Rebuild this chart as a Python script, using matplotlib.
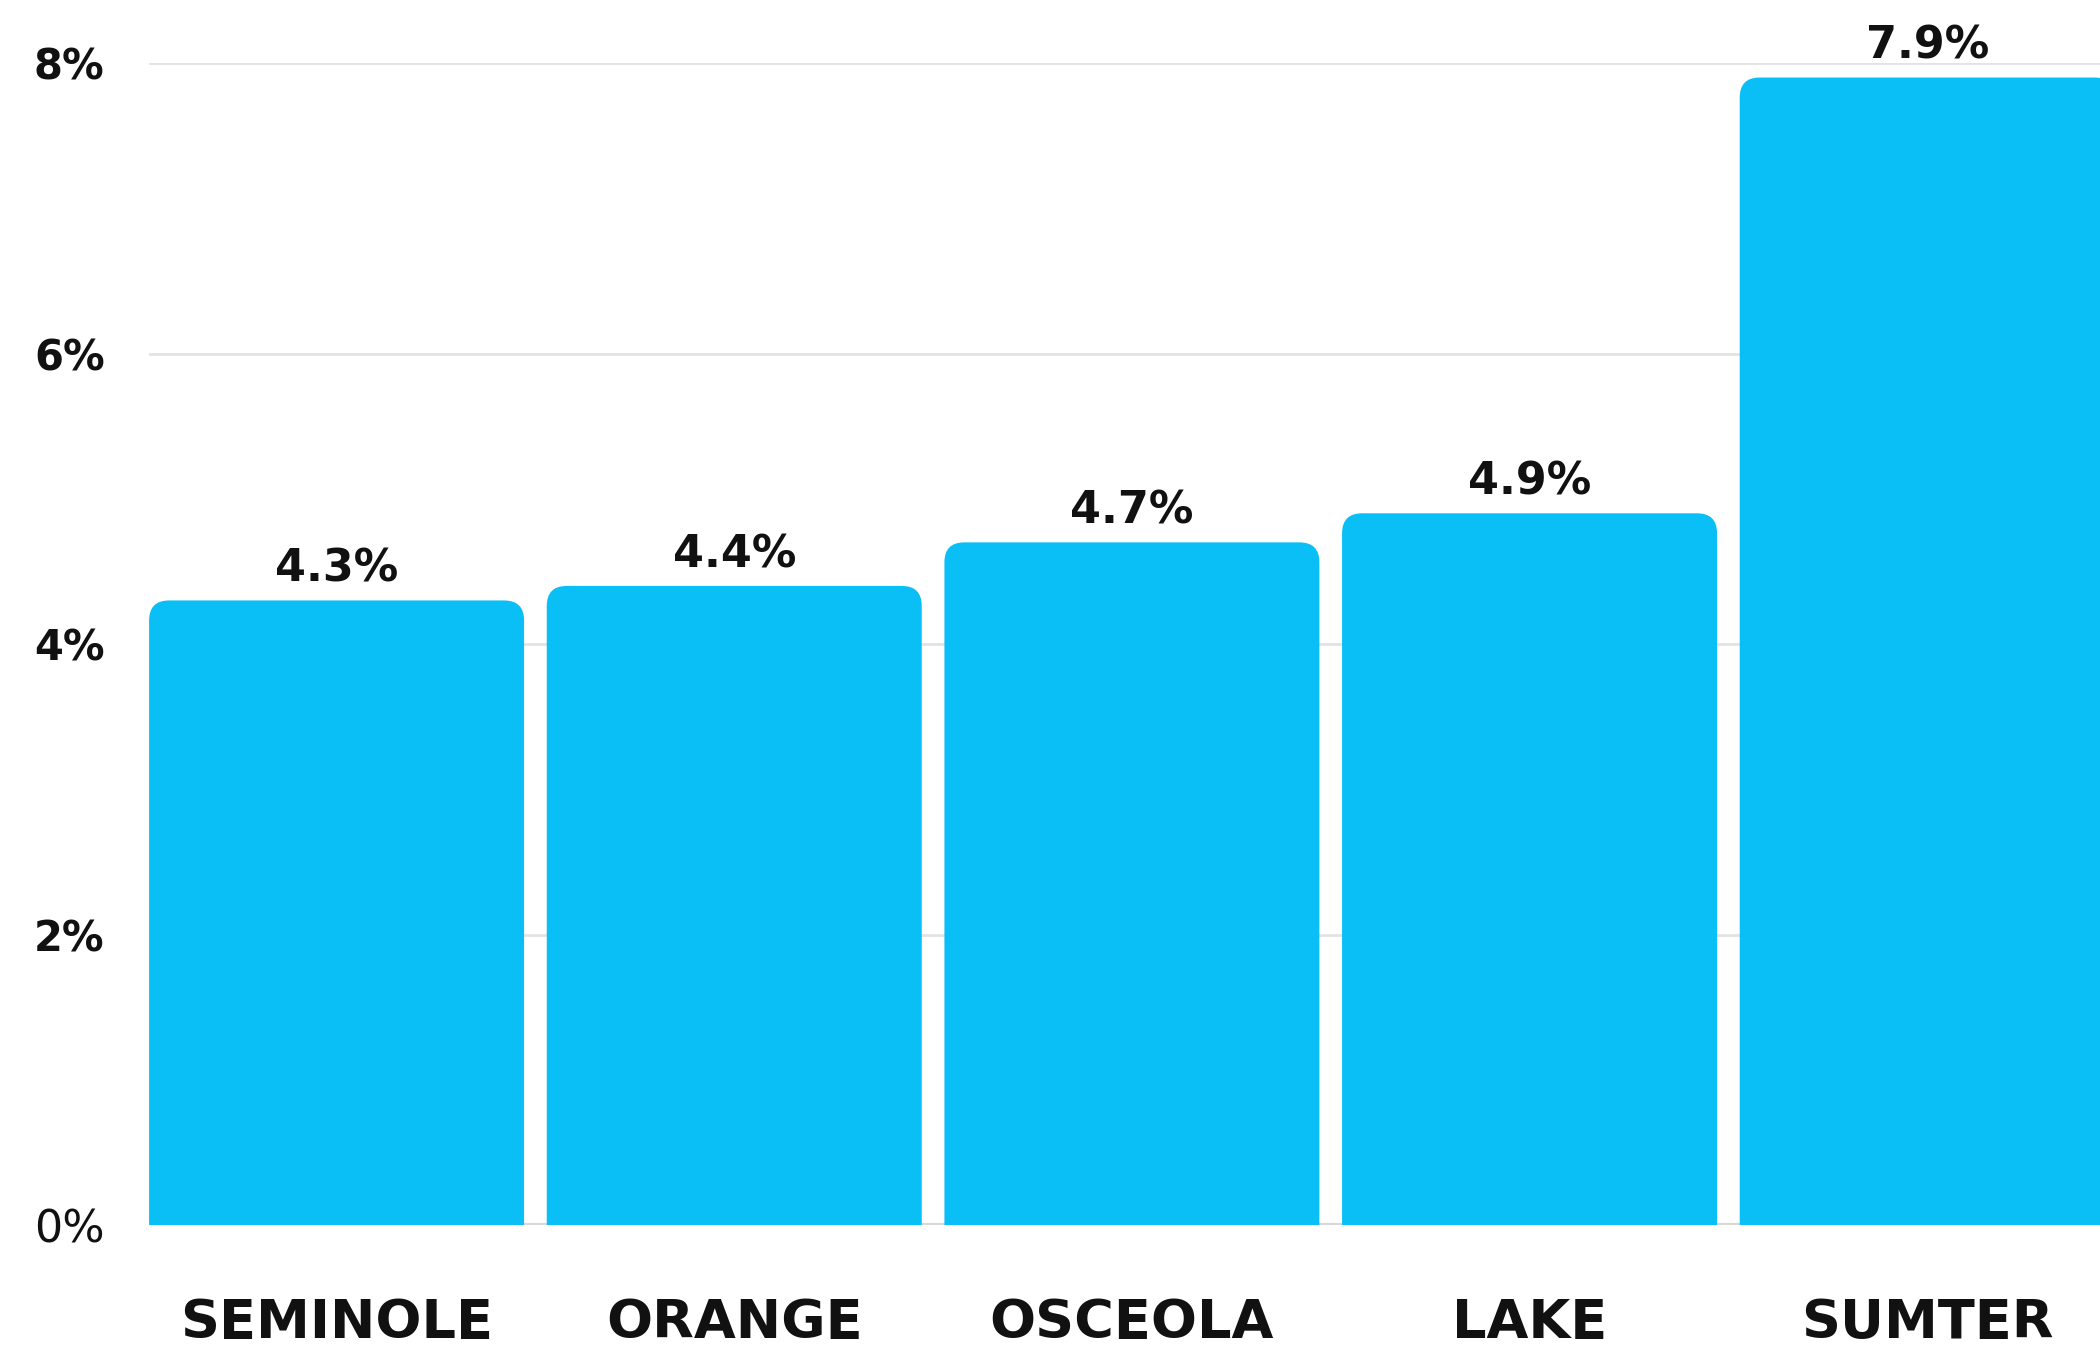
import matplotlib
matplotlib.use('Agg')
import matplotlib.pyplot as plt
from matplotlib.patches import FancyBboxPatch

# values
counties = ['SEMINOLE', 'ORANGE', 'OSCEOLA', 'LAKE', 'SUMTER']
rates = [4.3, 4.4, 4.7, 4.9, 7.9]
yticks = [0, 2, 4, 6, 8]
ytick_labels = ['0%', '2%', '4%', '6%', '8%']

bar_color = '#0abff6'
grid_color = '#e3e3e3'
bar_w = 0.943

fig = plt.figure(figsize=(21, 13.52), dpi=100)
# axes runs a little past the right edge, like the original crop
ax = fig.add_axes([0.071, 0.0939, 0.936, 0.8595])

bars = ax.bar(range(len(counties)), rates, width=bar_w, color='none', edgecolor='none')

# rounded tops: same bars, redrawn as fancy boxes that start below 0 (clipped by axes)
x_px = 0.936 * 2100 / (len(counties) - 1 + bar_w)
y_px = 0.8595 * 1352 / 8
r = 20 / x_px
for b in bars:
    p = FancyBboxPatch((b.get_x(), -1), b.get_width(), b.get_height() + 1,
                       boxstyle='round,pad=0,rounding_size=%f' % r,
                       mutation_aspect=x_px / y_px,
                       facecolor=bar_color, edgecolor='none', zorder=3)
    ax.add_patch(p)

for i, v in enumerate(rates):
    ax.annotate('%.1f%%' % v, (i, v), xytext=(0, 7), textcoords='offset points',
                ha='center', va='bottom', fontsize=32, fontweight='bold',
                color='#111111', annotation_clip=False)

ax.set_xlim(-bar_w / 2, len(counties) - 1 + bar_w / 2)
ax.set_ylim(0, 8)
ax.set_yticks(yticks)
ax.set_yticklabels(ytick_labels)
ax.set_xticks(range(len(counties)))
ax.set_xticklabels(counties)

ax.grid(axis='y', color=grid_color, linewidth=2, zorder=0)
ax.set_axisbelow(True)
for s in ax.spines.values():
    s.set_visible(False)
ax.axhline(0, color='#d8d8d8', linewidth=3, zorder=1)

ax.tick_params(axis='y', length=0, pad=32, labelsize=30, labelcolor='#111111')
ax.tick_params(axis='x', length=0, pad=52, labelsize=39, labelcolor='#111111')
for t in ax.get_yticklabels():
    t.set_fontweight('bold')
ax.get_yticklabels()[0].set_fontweight('normal')
ax.get_yticklabels()[0].set_fontsize(32)
for t in ax.get_xticklabels():
    t.set_fontweight('bold')

fig.savefig('out.png', dpi=100)
